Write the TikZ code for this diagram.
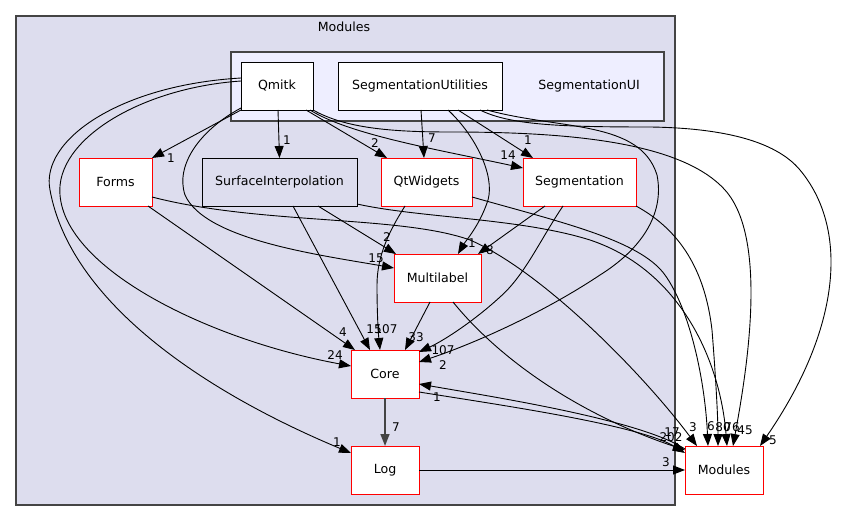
\documentclass[tikz,border=0pt]{standalone}
\usepackage{fontspec}
\setmainfont{DejaVu Sans}
\usetikzlibrary{arrows.meta}
\definecolor{clusterbg}{HTML}{DDDDEE}
\definecolor{innerbg}{HTML}{EEEEFF}
\definecolor{clusterline}{HTML}{444444}
\definecolor{dirred}{HTML}{FF0000}
\begin{document}
\begin{tikzpicture}[x=1pt,y=-1pt,
  every node/.style={font=\fontsize{12.6}{15}\selectfont, inner sep=0pt, outer sep=0pt},
  dirbox/.style={draw=black, fill=white, line width=0.9pt, minimum width=#1, minimum height=48pt},
  reddir/.style={dirbox=#1, draw=dirred},
  dep/.style={line width=0.9pt, -{Triangle[length=12pt,width=9pt]}},
  elabel/.style={font=\fontsize{12}{14}\selectfont},
  cluster/.style={draw=clusterline, line width=1.2pt}
]
\useasboundingbox (0,0) rectangle (841,521);
% clusters
\draw[cluster, fill=clusterbg] (16,16) rectangle (675,505);
\node (modlabel) at (344,27) {Modules};
\draw[cluster, fill=innerbg] (231,52) rectangle (664,121);
\node (seguilabel) at (589,86) {SegmentationUI};
% nodes
\node[dirbox=72pt] (qmitk) at (277,86) {Qmitk};
\node[dirbox=164pt] (segutil) at (420,86) {SegmentationUtilities};
\node[reddir=73pt] (forms) at (115.5,182) {Forms};
\node[dirbox=155pt, fill=clusterbg] (surf) at (279.5,182) {SurfaceInterpolation};
\node[reddir=91pt] (qtw) at (426.5,182) {QtWidgets};
\node[reddir=113pt] (seg) at (579.5,182) {Segmentation};
\node[reddir=87pt] (multi) at (437.5,278) {Multilabel};
\node[reddir=68pt] (core) at (385,374) {Core};
\node[reddir=68pt] (log) at (385,470) {Log};
\node[reddir=78pt] (modext) at (724,470) {Modules};
% edges from Qmitk
\draw[dep] (qmitk.south west) -- (forms.north east);
\draw[dep] ([xshift=1pt]qmitk.south) -- (surf.north);
\draw[dep] ([xshift=29pt]qmitk.south) -- ([xshift=-39.5pt]qtw.north);
\draw[dep] ([xshift=33pt]qmitk.south) .. controls (350,135) and (440,150) .. ([yshift=14pt]seg.west);
\draw[dep] ([yshift=-22pt]qmitk.west) .. controls (200,130) and (175,165) .. (185,195) .. controls (205,240) and (320,255) .. ([yshift=10pt]multi.west);
\draw[dep] ([yshift=5pt]qmitk.west) .. controls (140,88) and (55,140) .. (60,195) .. controls (66,270) and (210,340) .. ([yshift=8pt]core.west);
\draw[dep] ([yshift=8pt]qmitk.west) .. controls (120,85) and (40,140) .. (50,190) .. controls (70,300) and (200,390) .. ([yshift=17pt]log.west);
\draw[dep] (qmitk.south east) .. controls (345,128) and (390,132) .. (450,132) .. controls (560,132) and (680,140) .. (725,190) .. controls (770,240) and (745,380) .. ([xshift=9pt]modext.north);
% edges from SegmentationUtilities
\draw[dep] ([xshift=1pt]segutil.south) -- ([xshift=-2.5pt]qtw.north);
\draw[dep] ([xshift=38pt]segutil.south) -- ([xshift=-46.5pt]seg.north);
\draw[dep] ([xshift=28pt]segutil.south) .. controls (475,135) and (495,175) .. (488,200) .. controls (480,225) and (465,242) .. ([xshift=20.5pt]multi.north);
\draw[dep] ([xshift=67pt]segutil.south) .. controls (560,130) and (640,120) .. (657,175) .. controls (665,215) and (640,250) .. (600,275) .. controls (540,315) and (470,345) .. ([yshift=12pt]core.east);
\draw[dep] ([xshift=60pt]segutil.south) .. controls (510,125) and (560,127) .. (650,127) .. controls (720,128) and (775,140) .. (800,170) .. controls (850,230) and (840,330) .. ([xshift=36pt]modext.north);
% edges from Forms
\draw[dep] ([xshift=-4pt]forms.south east) -- ([xshift=4pt]core.north west);
\draw[dep] ([yshift=-15pt]forms.east) .. controls (260,225) and (400,215) .. (470,240) .. controls (540,270) and (640,370) .. ([xshift=-27pt]modext.north);
% edges from SurfaceInterpolation
\draw[dep] ([xshift=38.5pt]surf.south) -- ([xshift=2pt]multi.north west);
\draw[dep] ([xshift=13.5pt]surf.south) -- ([xshift=-15pt]core.north);
\draw[dep] ([yshift=-22pt]surf.east) .. controls (420,218) and (520,218) .. (590,240) .. controls (680,270) and (720,360) .. ([xshift=3pt]modext.north);
% edges from QtWidgets
\draw[dep] ([xshift=-21.5pt]qtw.south) .. controls (390,230) and (377,255) .. (377,285) .. controls (377,310) and (378,330) .. ([xshift=-5pt]core.north);
\draw[dep] ([yshift=-15pt]qtw.east) .. controls (560,222) and (640,240) .. (665,275) .. controls (690,310) and (705,380) .. ([xshift=-16pt]modext.north);
% edges from Segmentation
\draw[dep] ([xshift=-34.5pt]seg.south) -- ([xshift=40.5pt]multi.north);
\draw[dep] ([xshift=-16.5pt]seg.south) .. controls (540,240) and (525,275) .. (500,297) .. controls (475,320) and (445,340) .. ([yshift=22pt]core.east);
\draw[dep] (seg.south east) .. controls (680,230) and (705,270) .. (712,330) .. controls (716,380) and (718,420) .. ([xshift=-6pt]modext.north);
% edges from Multilabel
\draw[dep] ([xshift=-7.5pt]multi.south) -- ([xshift=20pt]core.north);
\draw[dep] ([xshift=15.5pt]multi.south) .. controls (500,360) and (580,415) .. ([yshift=-4pt]modext.north west);
% edges from Core, Log, Modules
\draw[line width=1.6pt, draw=clusterline, -{Triangle[length=12pt,width=9pt]}] (core.south) -- (log.north);
\draw[dep] ([yshift=-18pt]core.east) .. controls (500,405) and (640,425) .. ([yshift=-7pt]modext.north west);
\draw[dep] ([yshift=-3pt]modext.north west) .. controls (640,420) and (500,398) .. ([yshift=-10pt]core.east);
\draw[dep] (log.east) -- (modext.west);
% edge labels
\node[elabel] (la) at (171,158) {1};
\node[elabel] (lb) at (287,140) {1};
\node[elabel] (lc) at (375,143) {2};
\node[elabel] (ld) at (508,155) {14};
\node[elabel] (le) at (432,138) {7};
\node[elabel] (lf) at (528,140) {1};
\node[elabel] (lg) at (387,237) {2};
\node[elabel] (lh) at (376,258) {15};
\node[elabel] (li) at (472,243) {1};
\node[elabel] (lj) at (490,250) {8};
\node[elabel] (lk) at (374,329) {15};
\node[elabel] (ll) at (386,329) {107};
\node[elabel] (lm) at (416,337) {33};
\node[elabel] (ln) at (343,332) {4};
\node[elabel] (lo) at (335,355) {24};
\node[elabel] (lp) at (337,442) {1};
\node[elabel] (lq) at (396,427) {7};
\node[elabel] (lr) at (443,350) {107};
\node[elabel] (ls) at (443,365) {2};
\node[elabel] (lt) at (437,397) {1};
\node[elabel] (lu) at (666,462) {3};
\node[elabel] (lv) at (672,432) {17};
\node[elabel] (lw) at (671,437) {202};
\node[elabel] (lx) at (693,427) {3};
\node[elabel] (ly) at (711,426) {6};
\node[elabel] (lz) at (723,427) {80};
\node[elabel] (laa) at (732,427) {76};
\node[elabel] (lab) at (745,430) {45};
\node[elabel] (lac) at (773,440) {5};
\end{tikzpicture}
\end{document}
